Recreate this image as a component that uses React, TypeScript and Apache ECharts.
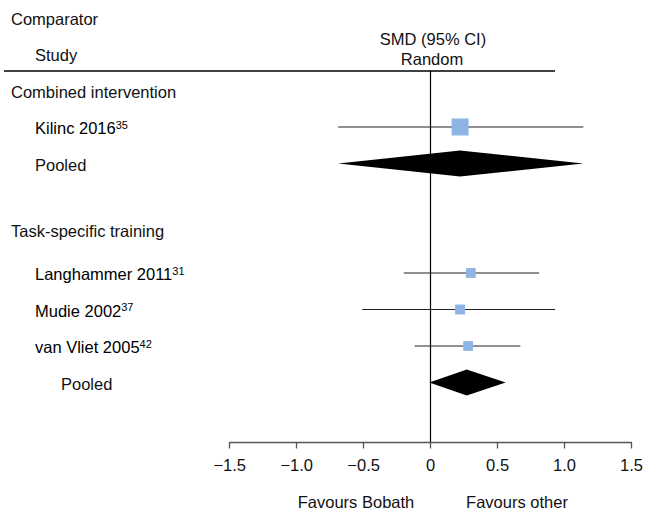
import React, { useEffect, useRef } from "react";
import * as echarts from "echarts";

const groups = ["Combined intervention", "Task-specific training"];
const groupRows = [0, 3.8];

const studies = ["Kilinc 2016", "Langhammer 2011", "Mudie 2002", "van Vliet 2005"];
const studyRefs = ["35", "31", "37", "42"];
const studyRows = [1, 5, 6, 7];
const studySMD = [0.22, 0.3, 0.22, 0.28];
const studyLower = [-0.69, -0.2, -0.51, -0.12];
const studyUpper = [1.14, 0.81, 0.93, 0.67];
const studyWeight = [100, 33, 34, 33];

const pooledLabels = ["Pooled", "Pooled"];
const pooledRows = [2, 8];
const pooledSMD = [0.22, 0.27];
const pooledLower = [-0.69, -0.01];
const pooledUpper = [1.14, 0.56];

const xMin = -1.5;
const xMax = 1.5;
const xStep = 0.5;

const FONT = "'Liberation Sans', Arial, sans-serif";
const FS = 16.5;
const TEXT = "#111";
const BLUE = "#8DB4E2";

export default function App() {
  const ref = useRef<HTMLDivElement>(null);

  useEffect(() => {
    if (!ref.current) return;
    const chart = echarts.init(ref.current, null, { renderer: "svg" });

    const rich = {
      n: { fontSize: FS, fontFamily: FONT, color: TEXT, lineHeight: 18 },
      s: { fontSize: 11, fontFamily: FONT, color: TEXT, verticalAlign: "top", lineHeight: 11 },
    };

    const pooledLabelX = [35, 61];

    const txt = (text: string, extra: any = {}) => ({
      text,
      fontSize: FS,
      fontFamily: FONT,
      fill: TEXT,
      ...extra,
    });

    const option: any = {
      animation: false,
      grid: { left: 229.7, right: 12.7, top: 71, bottom: 68.5, containLabel: false },
      xAxis: {
        type: "value",
        min: xMin,
        max: xMax,
        interval: xStep,
        splitLine: { show: false },
        axisLine: { show: true, onZero: false, lineStyle: { color: "#555", width: 1.3 } },
        axisTick: { show: true, length: 6, lineStyle: { color: "#555", width: 1.3 } },
        axisLabel: {
          fontSize: FS,
          fontFamily: FONT,
          color: TEXT,
          margin: 14,
          formatter: (v: number) => (v === 0 ? "0" : v.toFixed(1).replace("-", "\u2212")),
        },
      },
      yAxis: {
        type: "value",
        inverse: true,
        min: -0.534,
        max: 9.644,
        splitLine: { show: false },
        axisTick: { show: false },
        axisLabel: { show: false },
        axisLine: { show: true, onZero: true, lineStyle: { color: "#000", width: 1.2 } },
      },
      series: [
        {
          type: "custom",
          name: "groups",
          clip: false,
          encode: { x: 0, y: 1 },
          data: groups.map((g, i) => [0, groupRows[i]]),
          renderItem: (params: any, api: any) => {
            const c = api.coord([0, api.value(1)]);
            return {
              type: "text",
              x: 11,
              y: c[1] + 1.5,
              style: txt(groups[params.dataIndex], { align: "left", verticalAlign: "middle" }),
            };
          },
        },
        {
          type: "custom",
          name: "studies",
          clip: false,
          encode: { x: [0, 1, 2], y: 3 },
          data: studies.map((s, i) => [studySMD[i], studyLower[i], studyUpper[i], studyRows[i], studyWeight[i]]),
          renderItem: (params: any, api: any) => {
            const row = api.value(3);
            const c = api.coord([api.value(0), row]);
            const l = api.coord([api.value(1), row]);
            const h = api.coord([api.value(2), row]);
            const sz = 17 * Math.sqrt(api.value(4) / 100);
            const i = params.dataIndex;
            return {
              type: "group",
              children: [
                {
                  type: "line",
                  shape: { x1: l[0], y1: l[1], x2: h[0], y2: h[1] },
                  style: { stroke: "#222", lineWidth: 1.2 },
                },
                {
                  type: "rect",
                  shape: { x: c[0] - sz / 2, y: c[1] - sz / 2, width: sz, height: sz },
                  style: { fill: BLUE },
                },
                {
                  type: "text",
                  x: 35,
                  y: c[1] + 1.5,
                  style: {
                    text: `{n|${studies[i]}}{s|${studyRefs[i]}}`,
                    rich,
                    align: "left",
                    verticalAlign: "middle",
                  },
                },
              ],
            };
          },
        },
        {
          type: "custom",
          name: "pooled",
          clip: false,
          encode: { x: [0, 1, 2], y: 3 },
          data: pooledLabels.map((p, i) => [pooledSMD[i], pooledLower[i], pooledUpper[i], pooledRows[i]]),
          renderItem: (params: any, api: any) => {
            const row = api.value(3);
            const c = api.coord([api.value(0), row]);
            const l = api.coord([api.value(1), row]);
            const h = api.coord([api.value(2), row]);
            const hh = 13;
            const i = params.dataIndex;
            return {
              type: "group",
              children: [
                {
                  type: "polygon",
                  shape: {
                    points: [
                      [l[0], c[1]],
                      [c[0], c[1] - hh],
                      [h[0], c[1]],
                      [c[0], c[1] + hh],
                    ],
                  },
                  style: { fill: "#000" },
                },
                {
                  type: "text",
                  x: pooledLabelX[i],
                  y: c[1] + 1.5,
                  style: txt(pooledLabels[i], { align: "left", verticalAlign: "middle" }),
                },
              ],
            };
          },
        },
      ],
      graphic: [
        { type: "text", x: 11, y: 19, style: txt("Comparator", { align: "left", verticalAlign: "middle" }) },
        { type: "text", x: 35, y: 55, style: txt("Study", { align: "left", verticalAlign: "middle" }) },
        { type: "text", x: 433, y: 38.5, style: txt("SMD (95% CI)", { align: "center", verticalAlign: "middle" }) },
        { type: "text", x: 432, y: 58.5, style: txt("Random", { align: "center", verticalAlign: "middle" }) },
        {
          type: "line",
          shape: { x1: 4, y1: 71, x2: 555, y2: 71 },
          style: { stroke: "#000", lineWidth: 1.3 },
        },
        { type: "text", x: 356, y: 502, style: txt("Favours Bobath", { align: "center", verticalAlign: "middle" }) },
        { type: "text", x: 517, y: 502, style: txt("Favours other", { align: "center", verticalAlign: "middle" }) },
      ],
    };

    chart.setOption(option);
    return () => chart.dispose();
  }, []);

  return (
    <div
      ref={ref}
      style={{ position: "fixed", left: 0, top: 0, width: 646, height: 511, background: "#fff" }}
    />
  );
}
